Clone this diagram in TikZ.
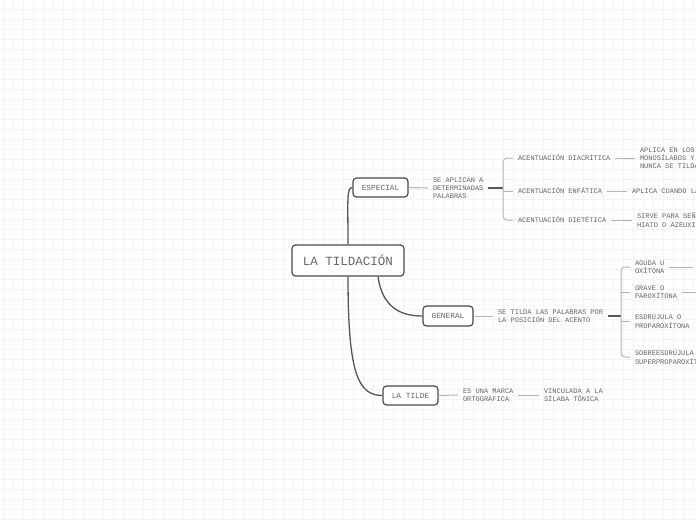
\documentclass[tikz,border=0pt]{standalone}
\usepackage{fontspec}
\setmonofont{Liberation Mono}
\definecolor{boxc}{HTML}{4A4A4A}
\definecolor{mainc}{HTML}{555555}
\definecolor{thinc}{HTML}{B4B4B4}
\definecolor{txt}{HTML}{666666}
\definecolor{gridc}{HTML}{F4F4F4}
\begin{document}
\begin{tikzpicture}[x=1pt,y=-1pt,
  box/.style={draw=boxc, line width=1.2pt, rounded corners=3.5pt, fill=white, text=txt,
    font=\ttfamily\fontsize{7.8}{9}\selectfont, inner sep=0pt, minimum height=19pt},
  lbl/.style={anchor=west, align=left, text=txt, font=\ttfamily\fontsize{7}{8.3}\selectfont,
    inner sep=0pt, outer xsep=5pt},
  mainline/.style={draw=mainc, line width=1.3pt},
  thinline/.style={draw=thinc, line width=1pt},
  stubline/.style={draw=mainc, line width=1.5pt},
  brline/.style={draw=thinc, line width=1pt, rounded corners=4pt}]
\useasboundingbox (0,0) rectangle (696,520);
\clip (0,0) rectangle (696,520);
\fill[white] (0,0) rectangle (696,520);
\foreach \gx in {3,13,...,693} \draw[gridc, line width=0.7pt] (\gx,0) -- (\gx,520);
\foreach \gy in {9,19,...,519} \draw[gridc, line width=0.7pt] (0,\gy) -- (696,\gy);

% main nodes
\node[box, minimum width=112pt, minimum height=31pt, text=txt,
  font=\ttfamily\fontsize{12.5}{14}\selectfont] (root) at (348,260.5) {LA TILDACIÓN};
\node[box, minimum width=55pt] (esp) at (380.5,187.5) {ESPECIAL};
\node[box, minimum width=50pt, minimum height=20pt] (gen) at (448,316) {GENERAL};
\node[box, minimum width=55pt] (til) at (410.5,395.5) {LA TILDE};

% root connectors
\draw[mainline] (root.north) .. controls +(0,-45) and +(-6,0) .. (esp.west);
\draw[mainline] ([xshift=30pt]root.south) .. controls +(4,28) and +(-25,0) .. (gen.west);
\draw[mainline] (root.south) .. controls +(0,95) and +(-25,0) .. (til.west);

% ESPECIAL branch
\node[lbl] (apl) at (428,188) {SE APLICAN A\\DETERMINADAS\\PALABRAS};
\draw[thinline] (esp.east) -- (apl.west);
\coordinate (b1) at (503,188);
\draw[stubline] (apl.east) -- (b1);
\node[lbl] (dia) at (513,158) {ACENTUACIÓN DIACRÍTICA};
\node[lbl] (enf) at (513,191) {ACENTUACIÓN ENFÁTICA};
\node[lbl] (die) at (513,220) {ACENTUACIÓN DIETÉTICA};
\draw[brline] (dia.west) -| (b1) |- (die.west);
\draw[brline] (b1 |- enf.west) -- (enf.west);
\node[lbl] (diat) at (635,158) {APLICA EN LOS\\MONOSÍLABOS Y\\NUNCA SE TILDAN};
\node[lbl] (enft) at (627,191) {APLICA CUANDO LA};
\node[lbl] (diet) at (632,220) {SIRVE PARA SEÑALAR\\HIATO O AZEUXIS};
\draw[thinline] (dia.east) -- (diat.west);
\draw[thinline] (enf.east) -- (enft.west);
\draw[thinline] (die.east) -- (diet.west);

% GENERAL branch
\node[lbl] (gent) at (493,316) {SE TILDA LAS PALABRAS POR\\LA POSICIÓN DEL ACENTO};
\draw[thinline] (gen.east) -- (gent.west);
\coordinate (b2) at (621,316);
\draw[stubline] (gent.east) -- (b2);
\node[lbl] (agu) at (630,267) {AGUDA U\\OXÍTONA};
\node[lbl] (gra) at (630,292) {GRAVE O\\PAROXÍTONA};
\node[lbl] (esd) at (630,321) {ESDRÚJULA O\\PROPAROXÍTONA};
\node[lbl] (sob) at (630,357) {SOBREESDRÚJULA O\\SUPERPROPAROXÍTONA};
\draw[brline] (agu.west) -| (b2) |- (sob.west);
\draw[brline] (b2 |- gra.west) -- (gra.west);
\draw[brline] (b2 |- esd.west) -- (esd.west);
\coordinate (aguo) at (693,267);
\coordinate (grao) at (705,292);
\draw[thinline] (agu.east) -- (aguo);
\draw[thinline] (gra.east) -- (grao);

% LA TILDE branch
\node[lbl] (mar) at (458,395) {ES UNA MARCA\\ORTOGRÁFICA};
\node[lbl] (vin) at (539,395) {VINCULADA A LA\\SÍLABA TÓNICA};
\draw[thinline] (til.east) -- (mar.west);
\draw[thinline] (mar.east) -- (vin.west);
\end{tikzpicture}
\end{document}
